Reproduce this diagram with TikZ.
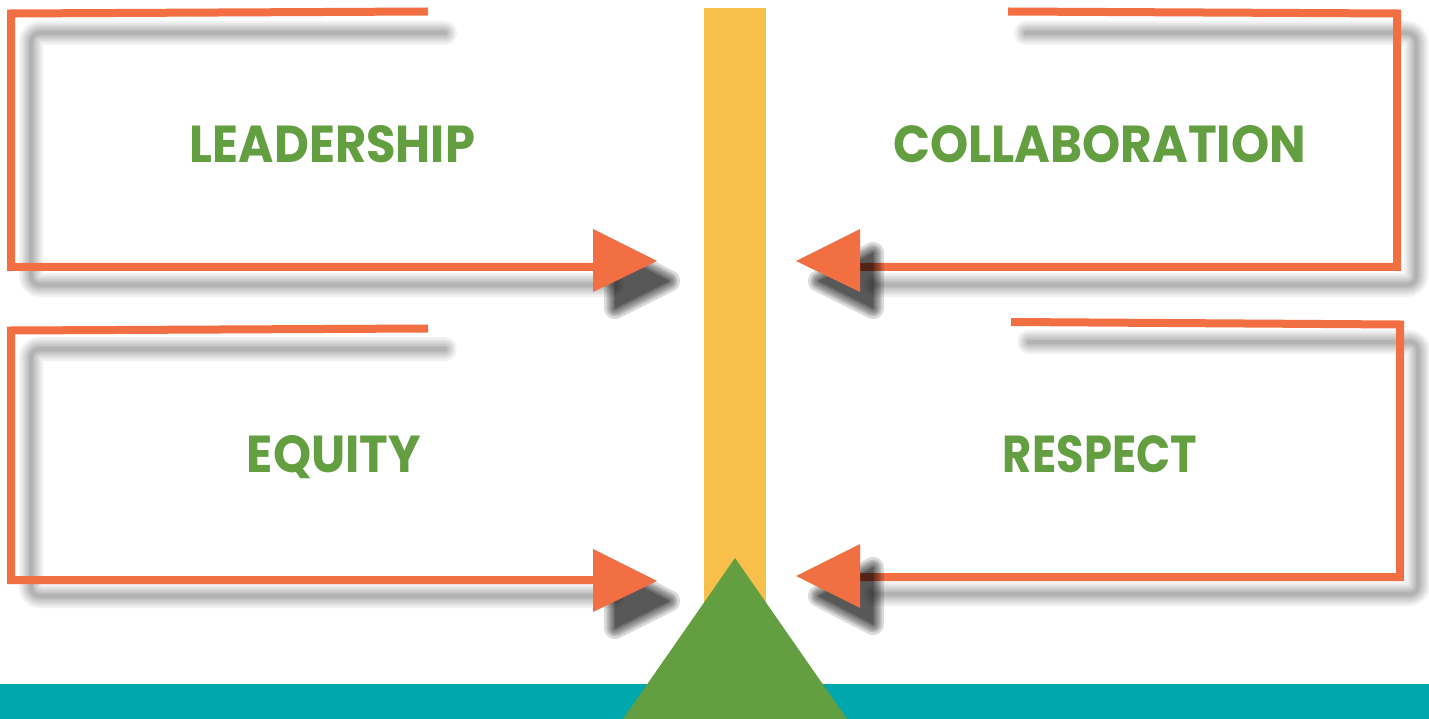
\documentclass[tikz,border=0pt]{standalone}
\usepackage{fontspec}
\setmainfont{Poppins}
\usepackage{graphicx}
\definecolor{orng}{HTML}{F26E43}
\definecolor{ylw}{HTML}{F9BF4B}
\definecolor{grn}{HTML}{639E40}
\definecolor{teal2}{HTML}{00A8AE}
\tikzset{
  frameline/.style={draw=orng,line width=8pt,line join=miter,line cap=butt},
  headfill/.style={fill=orng},
  lbl/.style={anchor=base,inner sep=0pt,text=grn,font=\bfseries},
}
\newcommand{\softline}[1]{%
  \foreach \w in {24,19,15,11,7,4}{%
    \draw[line width=\w pt,black,opacity=0.055,rounded corners=9pt,line cap=round] #1;}}
\newcommand{\softhead}[1]{%
  \foreach \w in {22,17,13,9,5,2}{%
    \begin{scope}[transparency group,opacity=0.14]
      \filldraw[black,line width=\w pt,line join=round] #1;
    \end{scope}}%
  \fill[black,opacity=0.12] #1;}
\begin{document}
\begin{tikzpicture}[x=1pt,y=-1pt]
\useasboundingbox (0,0) rectangle (1429,719);
\fill[white] (0,0) rectangle (1429,719);

% ---- shadows of the frame lines
\softline{(445,33) -- (31,33) -- (31,285) -- (612,285)}
\softline{(1026,33) -- (1416,33) -- (1416,285) -- (876,285)}
\softline{(445,349) -- (31,349) -- (31,596) -- (612,596)}
\softline{(1029,342) -- (1418,342) -- (1418,594) -- (876,594)}

% ---- named points
\coordinate (tl0) at (428,11.5);  \coordinate (tl1) at (11,13.5);
\coordinate (tl2) at (11,267);    \coordinate (tl3) at (594,267);
\coordinate (tr0) at (1008,11.5); \coordinate (tr1) at (1397,13.5);
\coordinate (tr2) at (1397,267);  \coordinate (tr3) at (859,267);
\coordinate (bl0) at (428,328.5); \coordinate (bl1) at (11,330.5);
\coordinate (bl2) at (11,580);    \coordinate (bl3) at (594,580);
\coordinate (br0) at (1011,322);  \coordinate (br1) at (1400,324.5);
\coordinate (br2) at (1400,577);  \coordinate (br3) at (859,577);

% ---- orange frame lines
\draw[frameline] (tl0) -- (tl1) -- (tl2) -- (tl3);
\draw[frameline] (tr0) -- (tr1) -- (tr2) -- (tr3);
\draw[frameline] (bl0) -- (bl1) -- (bl2) -- (bl3);
\draw[frameline] (br0) -- (br1) -- (br2) -- (br3);

% ---- shadows of arrow heads
\softhead{(615,253) -- (669,281) -- (615,308) -- cycle}
\softhead{(873,253) -- (819,281) -- (873,308) -- cycle}
\softhead{(615,573) -- (669,601) -- (615,628) -- cycle}
\softhead{(873,568) -- (819,596) -- (873,624) -- cycle}

% ---- arrow heads
\fill[headfill] (593,229) -- (657,261) -- (593,292) -- cycle;
\fill[headfill] (860,229) -- (796,261) -- (860,292) -- cycle;
\fill[headfill] (593,549) -- (657,581) -- (593,612) -- cycle;
\fill[headfill] (860,544) -- (796,576) -- (860,608) -- cycle;

% ---- base: teal ground, yellow beam, green fulcrum
\fill[teal2] (0,684) rectangle (1429,719);
\fill[ylw] (704,8) rectangle (766,640);
\fill[grn] (735,558) -- (847,719) -- (623,719) -- cycle;

% ---- labels
\node[lbl] (lead) at (332.5,163) {\resizebox{285pt}{37pt}{LEADERSHIP}};
\node[lbl] (coll) at (1099.5,163) {\resizebox{413pt}{37pt}{COLLABORATION}};
\node[lbl] (equi) at (334,472) {\resizebox{174pt}{37pt}{EQUITY}};
\node[lbl] (resp) at (1100,472) {\resizebox{194pt}{37pt}{RESPECT}};
\end{tikzpicture}
\end{document}
